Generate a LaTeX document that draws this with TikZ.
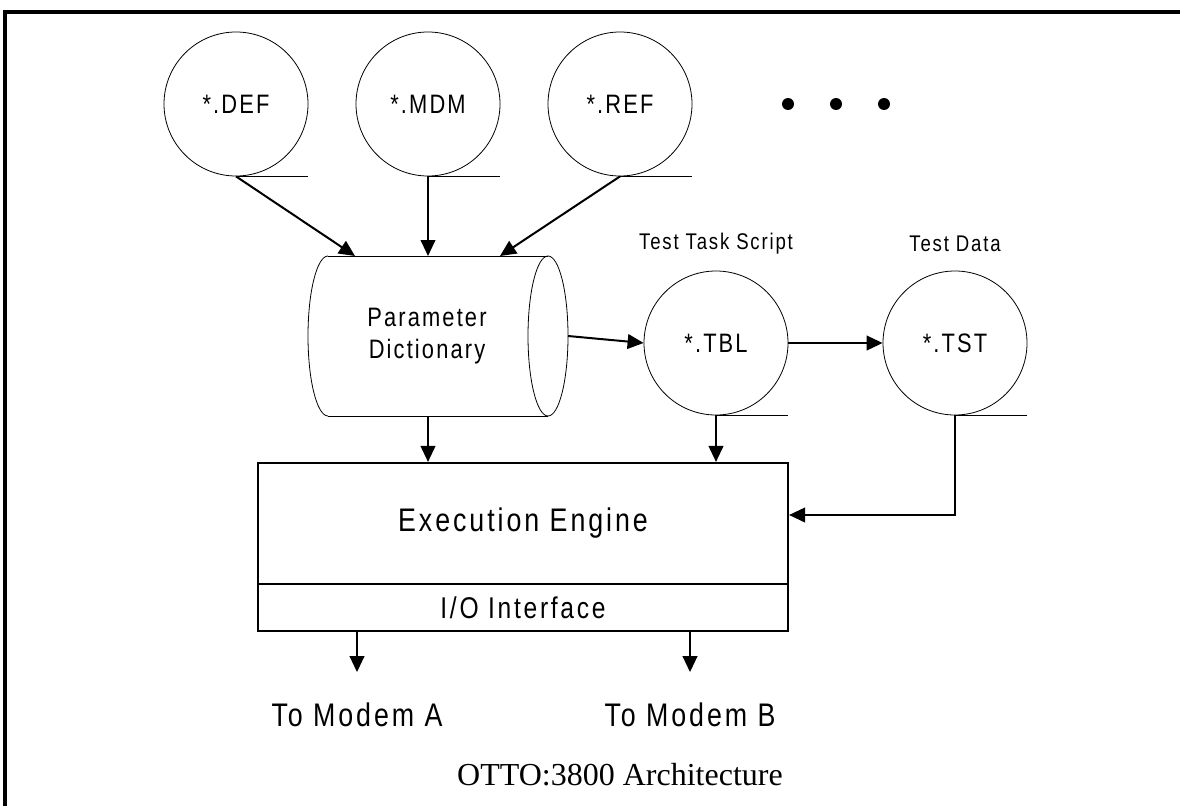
\documentclass[tikz,border=0pt]{standalone}
\usepackage{fontspec}
\setmainfont{Liberation Serif}
\newfontfamily\condA[FakeStretch=0.82,LetterSpace=8]{Liberation Sans}
\newfontfamily\condB[FakeStretch=0.82,LetterSpace=9]{Liberation Sans}
\usetikzlibrary{arrows.meta}
\begin{document}
\begin{tikzpicture}[x=0.75pt,y=-0.75pt,
  file/.style={circle,draw,line width=0.6pt,minimum size=108pt,inner sep=0pt,
    font=\condA\fontsize{20}{24}\selectfont},
  uline/.style={line width=0.6pt},
  arr/.style={line width=1.5pt,-{Triangle[length=12pt,width=11pt]}},
  thin/.style={line width=0.6pt},
  boxline/.style={line width=1.6pt},
  small/.style={font=\condA\fontsize{17}{20}\selectfont},
  big/.style={font=\condB\fontsize{24.5}{29}\selectfont}]
\useasboundingbox (0,0) rectangle (1180,806);
% frame
\draw[line width=2.3pt] (5,806) -- (5,12) -- (1180,12);

% source files
\node[file] (def) at (236,104) {*.DEF};
\node[file] (mdm) at (428,104) {*.MDM};
\node[file] (ref) at (620,104) {*.REF};
\foreach \n in {def,mdm,ref}{\draw[uline] (\n.south) -- ++(72,0);}
\fill (788,104) circle (6);
\fill (836,104) circle (6);
\fill (884,104) circle (6);

% parameter dictionary cylinder
\node[align=center,font=\condA\fontsize{20}{24}\selectfont,minimum width=165pt,minimum height=120pt,inner sep=0pt] (pd) at (427,336) {Parameter\\Dictionary};
\draw[thin] (328,256) -- (548,256);
\draw[thin] (328,416) -- (548,416);
\draw[thin] (328,256) arc[start angle=-90,end angle=-270,x radius=20,y radius=80];
\draw[thin] (548,336) ellipse[x radius=20,y radius=80];
\coordinate (pdA) at (355,256);
\coordinate (pdB) at (428,256);
\coordinate (pdC) at (500,256);
\coordinate (pdR) at (568,336);
\coordinate (pdS) at (428,416);

% test files
\node[file] (tbl) at (716,343) {*.TBL};
\node[file] (tst) at (955,343) {*.TST};
\foreach \n in {tbl,tst}{\draw[uline] (\n.south) -- ++(72,0);}
\node[small] (tbllab) at (716,244) {Test Task Script};
\node[small] (tstlab) at (955,244) {Test Data};

% execution engine
\node[draw,boxline,minimum width=397.5pt,minimum height=90.75pt,inner sep=0pt,big] (eng) at (523,523.5) {Execution Engine};
\node[draw,boxline,minimum width=397.5pt,minimum height=35.25pt,inner sep=0pt,font=\condB\fontsize{22.5}{26}\selectfont] (io) at (523,607.5) {I/O Interface};

% arrows
\draw[arr] (def.south) -- (pdA);
\draw[arr] (mdm.south) -- (pdB);
\draw[arr] (ref.south) -- (pdC);
\draw[arr] (pdR) -- (tbl.west);
\draw[arr] (tbl.east) -- (tst.west);
\draw[arr] (pdS) -- (pdS |- eng.north);
\draw[arr] (tbl.south) -- (tbl.south |- eng.north);
\coordinate (engR) at (eng.east |- 0,515);
\draw[arr] (tst.south) |- (engR);

% outputs
\node[big] (ma) at (357,715) {To Modem A};
\node[big] (mb) at (690,715) {To Modem B};
\draw[arr] (ma |- io.south) -- ++(0,40);
\draw[arr] (mb |- io.south) -- ++(0,40);

% caption
\node[font=\fontsize{24}{28}\selectfont] (cap) at (620,775) {OTTO:3800 Architecture};
\end{tikzpicture}
\end{document}
